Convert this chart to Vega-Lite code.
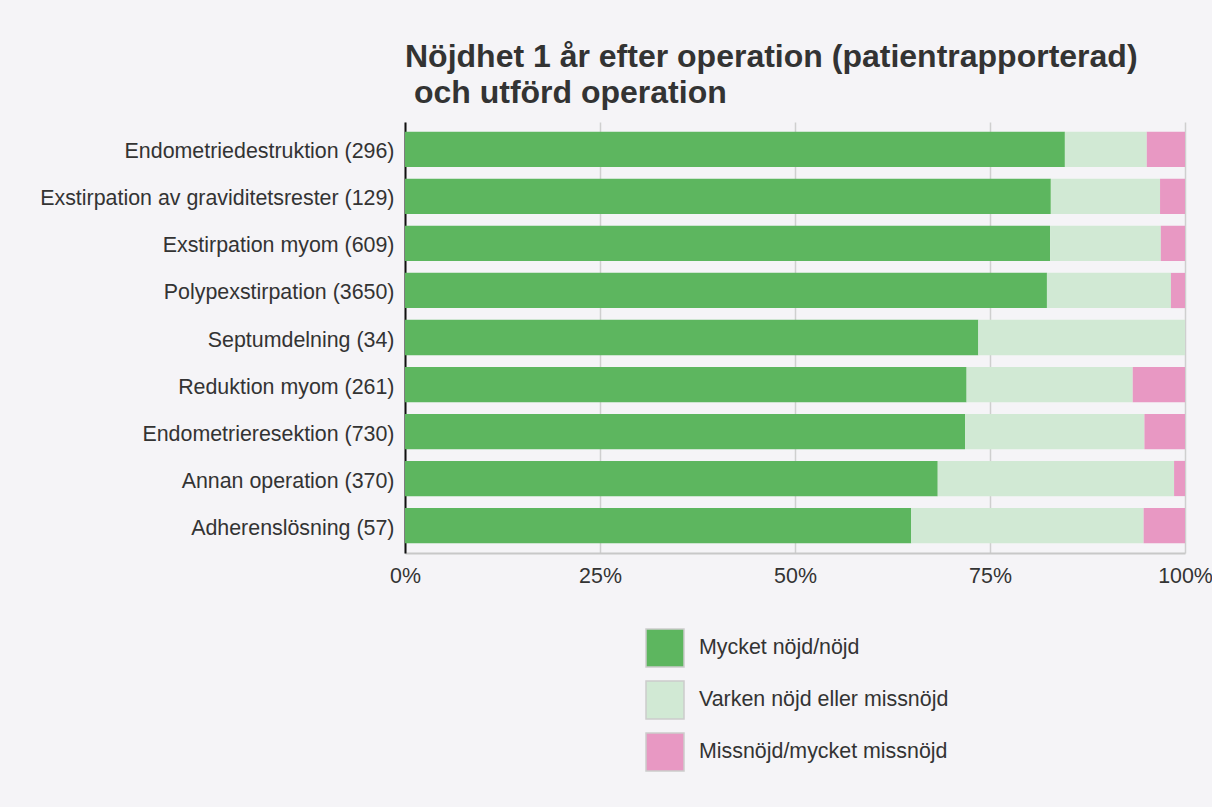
{
  "$schema": "https://vega.github.io/schema/vega-lite/v6.json",
  "autosize": {"type": "none"},
  "padding": {"left": 405, "top": 122, "right": 27, "bottom": 254},
  "width": 780,
  "height": 431,
  "background": "#f5f4f7",
  "config": {
    "font": "Liberation Sans",
    "view": {"stroke": null}
  },
  "title": {
    "text": ["Nöjdhet 1 år efter operation (patientrapporterad)", "\u200b\u00a0och utförd operation"],
    "fontSize": 32,
    "fontWeight": "bold",
    "color": "#333333",
    "anchor": "start",
    "frame": "group",
    "lineHeight": 36,
    "offset": 12
  },
  "data": {
    "values": [
      {"operation": "Endometriedestruktion (296)", "svar": "Mycket nöjd/nöjd", "ordning": 1, "andel": 84.6},
      {"operation": "Endometriedestruktion (296)", "svar": "Varken nöjd eller missnöjd", "ordning": 2, "andel": 10.5},
      {"operation": "Endometriedestruktion (296)", "svar": "Missnöjd/mycket missnöjd", "ordning": 3, "andel": 4.9},
      {"operation": "Exstirpation av graviditetsrester (129)", "svar": "Mycket nöjd/nöjd", "ordning": 1, "andel": 82.8},
      {"operation": "Exstirpation av graviditetsrester (129)", "svar": "Varken nöjd eller missnöjd", "ordning": 2, "andel": 14.0},
      {"operation": "Exstirpation av graviditetsrester (129)", "svar": "Missnöjd/mycket missnöjd", "ordning": 3, "andel": 3.2},
      {"operation": "Exstirpation myom (609)", "svar": "Mycket nöjd/nöjd", "ordning": 1, "andel": 82.7},
      {"operation": "Exstirpation myom (609)", "svar": "Varken nöjd eller missnöjd", "ordning": 2, "andel": 14.2},
      {"operation": "Exstirpation myom (609)", "svar": "Missnöjd/mycket missnöjd", "ordning": 3, "andel": 3.1},
      {"operation": "Polypexstirpation (3650)", "svar": "Mycket nöjd/nöjd", "ordning": 1, "andel": 82.3},
      {"operation": "Polypexstirpation (3650)", "svar": "Varken nöjd eller missnöjd", "ordning": 2, "andel": 15.9},
      {"operation": "Polypexstirpation (3650)", "svar": "Missnöjd/mycket missnöjd", "ordning": 3, "andel": 1.8},
      {"operation": "Septumdelning (34)", "svar": "Mycket nöjd/nöjd", "ordning": 1, "andel": 73.5},
      {"operation": "Septumdelning (34)", "svar": "Varken nöjd eller missnöjd", "ordning": 2, "andel": 26.5},
      {"operation": "Septumdelning (34)", "svar": "Missnöjd/mycket missnöjd", "ordning": 3, "andel": 0},
      {"operation": "Reduktion myom (261)", "svar": "Mycket nöjd/nöjd", "ordning": 1, "andel": 72.0},
      {"operation": "Reduktion myom (261)", "svar": "Varken nöjd eller missnöjd", "ordning": 2, "andel": 21.3},
      {"operation": "Reduktion myom (261)", "svar": "Missnöjd/mycket missnöjd", "ordning": 3, "andel": 6.7},
      {"operation": "Endometrieresektion (730)", "svar": "Mycket nöjd/nöjd", "ordning": 1, "andel": 71.8},
      {"operation": "Endometrieresektion (730)", "svar": "Varken nöjd eller missnöjd", "ordning": 2, "andel": 23.0},
      {"operation": "Endometrieresektion (730)", "svar": "Missnöjd/mycket missnöjd", "ordning": 3, "andel": 5.2},
      {"operation": "Annan operation (370)", "svar": "Mycket nöjd/nöjd", "ordning": 1, "andel": 68.3},
      {"operation": "Annan operation (370)", "svar": "Varken nöjd eller missnöjd", "ordning": 2, "andel": 30.3},
      {"operation": "Annan operation (370)", "svar": "Missnöjd/mycket missnöjd", "ordning": 3, "andel": 1.4},
      {"operation": "Adherenslösning (57)", "svar": "Mycket nöjd/nöjd", "ordning": 1, "andel": 64.9},
      {"operation": "Adherenslösning (57)", "svar": "Varken nöjd eller missnöjd", "ordning": 2, "andel": 29.8},
      {"operation": "Adherenslösning (57)", "svar": "Missnöjd/mycket missnöjd", "ordning": 3, "andel": 5.3}
    ]
  },
  "mark": {"type": "bar"},
  "encoding": {
    "y": {
      "field": "operation",
      "type": "nominal",
      "sort": null,
      "scale": {"paddingInner": 0.25, "paddingOuter": 0.21},
      "axis": {
        "title": null,
        "ticks": false,
        "labelFontSize": 21.4,
        "labelColor": "#333333",
        "labelPadding": 11,
        "labelOffset": 3,
        "labelLimit": 500,
        "domainColor": "#111111",
        "domainWidth": 2,
        "grid": false
      }
    },
    "x": {
      "field": "andel",
      "type": "quantitative",
      "stack": "normalize",
      "scale": {"domain": [0, 1], "nice": false},
      "axis": {
        "title": null,
        "values": [0, 0.25, 0.5, 0.75, 1],
        "format": ".0%",
        "ticks": false,
        "labelFontSize": 21.4,
        "labelColor": "#333333",
        "labelPadding": 12,
        "labelFlush": false,
        "domainColor": "#c8c8c8",
        "domainWidth": 2,
        "grid": true,
        "gridColor": "#cfcfcf",
        "gridWidth": 1.5
      }
    },
    "order": {"field": "ordning", "type": "quantitative", "sort": "ascending"},
    "color": {
      "field": "svar",
      "type": "nominal",
      "scale": {
        "domain": ["Mycket nöjd/nöjd", "Varken nöjd eller missnöjd", "Missnöjd/mycket missnöjd"],
        "range": ["#5db65f", "#d1e9d4", "#e898c3"]
      },
      "legend": {
        "title": null,
        "orient": "none",
        "legendX": 240,
        "legendY": 506,
        "padding": 0,
        "symbolType": "square",
        "symbolSize": 1444,
        "symbolOpacity": 1,
        "symbolStrokeColor": "#cccccc",
        "symbolStrokeWidth": 1.5,
        "labelFontSize": 21.4,
        "labelColor": "#333333",
        "labelOffset": 14,
        "rowPadding": 8,
        "labelLimit": 500
      }
    }
  }
}
